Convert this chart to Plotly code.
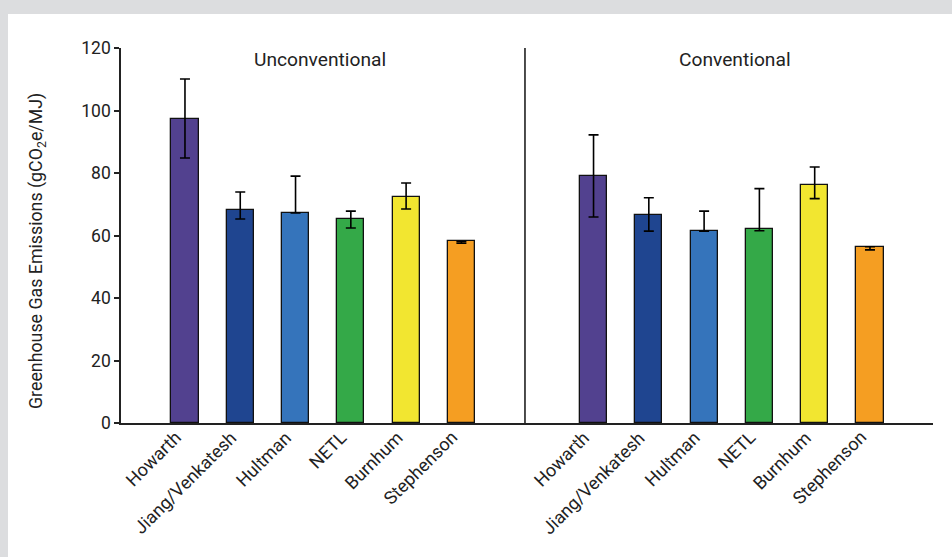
import plotly.graph_objects as go

studies = ["Howarth", "Jiang/Venkatesh", "Hultman", "NETL", "Burnhum", "Stephenson"]
colors = ["#52418f", "#1f4590", "#3574bb", "#34a948", "#f2e630", "#f59e22"]

unconv_vals = [97.2, 68.2, 67.2, 65.3, 72.3, 58.1]
unconv_plus = [12.9, 5.7, 11.8, 2.5, 4.5, 0.0]
unconv_minus = [12.4, 2.9, 0.0, 2.9, 3.8, 0.6]

conv_vals = [79.1, 66.5, 61.4, 62.0, 76.3, 56.4]
conv_plus = [13.1, 5.6, 6.4, 13.0, 5.6, 0.0]
conv_minus = [13.2, 5.1, 0.0, 0.5, 4.5, 1.0]

group_labels = ["Unconventional", "Conventional"]
y_ticks = [0, 20, 40, 60, 80, 100, 120]
y_title = "Greenhouse Gas Emissions (gCO<sub>2</sub>e/MJ)"

n = len(studies)
gap = 1.39
x_unconv = [i for i in range(n)]
x_conv = [i + n + gap for i in range(n)]
divider = n + 0.15

font = "Roboto, 'DejaVu Sans', sans-serif"

fig = go.Figure()
for xs, vals, plus, minus in [(x_unconv, unconv_vals, unconv_plus, unconv_minus),
                               (x_conv, conv_vals, conv_plus, conv_minus)]:
    fig.add_trace(go.Bar(
        x=xs, y=vals, width=0.49,
        marker=dict(color=colors, line=dict(color="#111111", width=1.3)),
        error_y=dict(type="data", symmetric=False, array=plus, arrayminus=minus,
                     color="#000000", thickness=1.6, width=5),
        showlegend=False, hoverinfo="skip",
    ))

W, H = 952, 557
ml, mr, mt, mb = 121, 19, 48, 134
pw, ph = W - ml - mr, H - mt - mb

def px_x(p):
    return (p - ml) / pw

def px_y(p):
    return (H - mb - p) / ph

fig.add_shape(type="rect", xref="paper", yref="paper",
              x0=px_x(8), x1=px_x(W + 5), y0=px_y(14), y1=px_y(H + 5),
              fillcolor="white", line=dict(width=0), layer="below")
fig.add_shape(type="line", xref="x", yref="y", x0=divider, x1=divider, y0=0, y1=120,
              line=dict(color="#111111", width=1.5))

for lbl, xs, sh in zip(group_labels, [x_unconv, x_conv], [-3, 3]):
    fig.add_annotation(x=(xs[0] + xs[-1]) / 2, y=116.2, xref="x", yref="y", xshift=sh,
                       text=lbl, showarrow=False, font=dict(size=19.2, color="#222222", family=font))

for xs in (x_unconv, x_conv):
    for xv, name in zip(xs, studies):
        fig.add_annotation(x=xv, y=px_y(424), xref="x", yref="paper", text=name,
                           textangle=-45, xanchor="right", yanchor="top", showarrow=False,
                           xshift=3, font=dict(size=18, color="#222222", family=font))

fig.add_annotation(x=px_x(37), y=px_y(251), xref="paper", yref="paper", text=y_title,
                   textangle=-90, showarrow=False, xanchor="center", yanchor="middle",
                   font=dict(size=17.8, color="#222222", family=font))

fig.update_layout(
    width=W, height=H,
    margin=dict(l=ml, r=mr, t=mt, b=mb),
    paper_bgcolor="#dcdddf", plot_bgcolor="white",
    font=dict(family=font, color="#222222"),
    bargap=0,
)
fig.update_xaxes(
    range=[-1.157, 13.53], tickvals=x_unconv + x_conv, showticklabels=False,
    ticks="", showgrid=False, zeroline=False,
    showline=True, linecolor="#222222", linewidth=1.5,
)
fig.update_yaxes(
    range=[0, 120], tickvals=y_ticks, ticks="outside", ticklen=5, tickwidth=1.5,
    tickcolor="#222222", showgrid=False, zeroline=False,
    showline=True, linecolor="#222222", linewidth=1.5,
    tickfont=dict(size=17.5, color="#222222"),
)

fig.write_html("out.html", config={"displayModeBar": False},
               post_script="document.body.style.margin='0';document.body.style.background='#dcdddf';")
